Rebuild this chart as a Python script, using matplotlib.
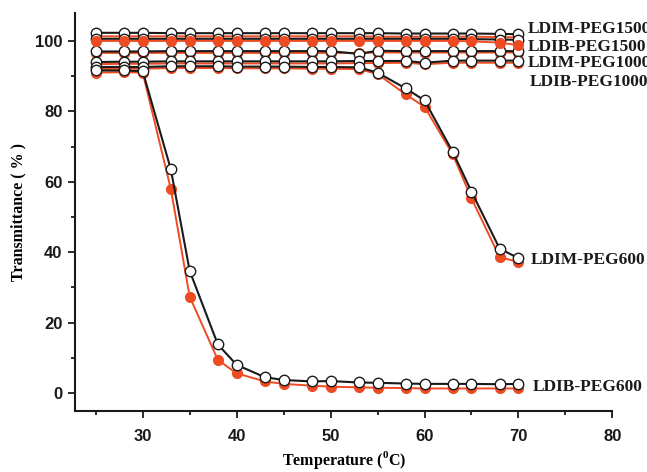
import matplotlib.pyplot as plt
from matplotlib.ticker import MultipleLocator

plt.rcParams['mathtext.fontset'] = 'custom'
plt.rcParams['mathtext.rm'] = 'Liberation Serif:bold'
plt.rcParams['mathtext.bf'] = 'Liberation Serif:bold'

temp = [25, 28, 30, 33, 35, 38, 40, 43, 45, 48, 50, 53, 55, 58, 60, 63, 65, 68, 70]

# open circles (black line) and filled circles (orange line) for each sample
ldim1500_open = [102.3, 102.3, 102.3, 102.2, 102.2, 102.2, 102.2, 102.2, 102.2, 102.2,
                 102.2, 102.2, 102.2, 102.1, 102.1, 102.1, 102.1, 102.0, 101.9]
ldim1500_fill = [101.3, 101.3, 101.3, 101.3, 101.3, 101.3, 101.3, 101.3, 101.3, 101.3,
                 101.3, 101.3, 101.2, 101.2, 101.2, 101.2, 101.2, 101.1, 101.0]
ldib1500_open = [100.6, 100.6, 100.6, 100.6, 100.6, 100.6, 100.6, 100.6, 100.6, 100.6,
                 100.6, 100.6, 100.6, 100.6, 100.6, 100.6, 100.5, 100.4, 100.3]
ldib1500_fill = [100.0, 100.0, 100.0, 100.0, 100.0, 100.0, 100.0, 100.0, 100.0, 100.0,
                 100.0, 100.0, 100.0, 100.0, 100.0, 100.0, 99.9, 99.5, 98.8]
ldim1000_open = [97.0, 97.0, 97.0, 97.1, 97.1, 97.1, 97.1, 97.1, 97.1, 97.1,
                 97.1, 96.3, 97.2, 97.1, 97.1, 97.1, 97.1, 97.1, 97.1]
ldim1000_fill = [96.6, 96.6, 96.6, 96.6, 96.6, 96.6, 96.6, 96.6, 96.6, 96.6,
                 96.6, 96.6, 96.7, 96.7, 96.7, 96.7, 96.7, 96.7, 96.7]
ldib1000_open = [94.0, 94.1, 94.1, 94.2, 94.2, 94.2, 94.2, 94.2, 94.2, 94.2,
                 94.2, 94.3, 94.3, 94.3, 93.8, 94.4, 94.4, 94.4, 94.4]
ldib1000_fill = [93.4, 93.5, 93.5, 93.6, 93.6, 93.6, 93.6, 93.6, 93.6, 93.6,
                 93.6, 93.7, 93.7, 93.8, 93.4, 93.8, 93.8, 93.8, 93.8]
ldim600_open = [92.6, 92.6, 92.6, 92.8, 92.8, 92.8, 92.7, 92.7, 92.7, 92.6,
                92.6, 92.5, 91.0, 86.5, 83.1, 68.5, 57.2, 41.0, 38.3]
ldim600_fill = [92.0, 92.1, 92.1, 92.3, 92.3, 92.3, 92.2, 92.2, 92.2, 92.1,
                92.1, 92.0, 90.6, 84.8, 81.3, 67.8, 55.3, 38.6, 37.2]
ldib600_open = [91.6, 91.6, 91.4, 63.5, 34.7, 13.8, 8.0, 4.5, 3.7, 3.3,
                3.4, 3.0, 2.9, 2.7, 2.6, 2.6, 2.6, 2.5, 2.6]
ldib600_fill = [91.0, 91.1, 91.0, 57.9, 27.4, 9.4, 5.6, 3.3, 2.6, 2.1,
                1.8, 1.6, 1.5, 1.4, 1.3, 1.3, 1.3, 1.3, 1.3]

labels = ['LDIM-PEG1500', 'LDIB-PEG1500', 'LDIM-PEG1000', 'LDIB-PEG1000',
          'LDIM-PEG600', 'LDIB-PEG600']
label_x = [71.0, 71.0, 71.0, 71.2, 71.3, 71.5]
label_y = [103.3, 98.3, 93.7, 88.4, 37.9, 1.7]

orange = '#ef4b23'

fig, ax = plt.subplots(figsize=(6.47, 4.72), dpi=100)
fig.subplots_adjust(left=0.116, right=0.9465, bottom=0.13, top=0.973)

fills = [ldim1500_fill, ldim1000_fill, ldib1000_fill, ldim600_fill, ldib600_fill]
opens = [ldim1500_open, ldib1500_open, ldim1000_open, ldib1000_open, ldim600_open, ldib600_open]

for s in fills:
    ax.plot(temp, s, '-o', color=orange, lw=1.4, ms=7, mec=orange, mfc=orange, zorder=2)
for s in opens:
    ax.plot(temp, s, '-o', color='#1a1a1a', lw=1.5, ms=7.5, mec='#1a1a1a', mfc='white', mew=1.0, zorder=3)
ax.plot(temp, ldib1500_fill, '-o', color=orange, lw=1.4, ms=7, mec=orange, mfc=orange, zorder=4)

for t, lx, ly in zip(labels, label_x, label_y):
    ax.text(lx, ly, t, ha='left', va='center', fontsize=12.5, fontweight='bold',
            family='Liberation Serif', color='#1a1a1a', clip_on=False)

ax.set_xlim(22.8, 80)
ax.set_ylim(-5, 108)
ax.xaxis.set_major_locator(MultipleLocator(10))
ax.xaxis.set_minor_locator(MultipleLocator(5))
ax.yaxis.set_major_locator(MultipleLocator(20))
ax.yaxis.set_minor_locator(MultipleLocator(10))
ax.set_xticks([30, 40, 50, 60, 70, 80])
ax.spines['top'].set_visible(False)
ax.spines['right'].set_visible(False)
for sp in ['left', 'bottom']:
    ax.spines[sp].set_linewidth(1.5)
    ax.spines[sp].set_color('#1a1a1a')
ax.tick_params(which='major', direction='out', length=5, width=1.3, color='#1a1a1a', pad=4)
ax.tick_params(which='minor', direction='out', length=3, width=1.3, color='#1a1a1a')
ax.tick_params(axis='x', which='major', pad=8)
for lab in ax.get_xticklabels() + ax.get_yticklabels():
    lab.set_fontfamily('Liberation Sans')
    lab.set_fontweight('bold')
    lab.set_fontsize(12)
    lab.set_color('#1a1a1a')

ax.set_xlabel(r'Temperature ($^{0}$C)', fontsize=11.5, fontweight='bold',
              family='Liberation Serif', labelpad=4)
ax.set_ylabel('Transmittance ( % )', fontsize=11.5, fontweight='bold',
              family='Liberation Serif', labelpad=6)

plt.savefig('out.png', dpi=100)
